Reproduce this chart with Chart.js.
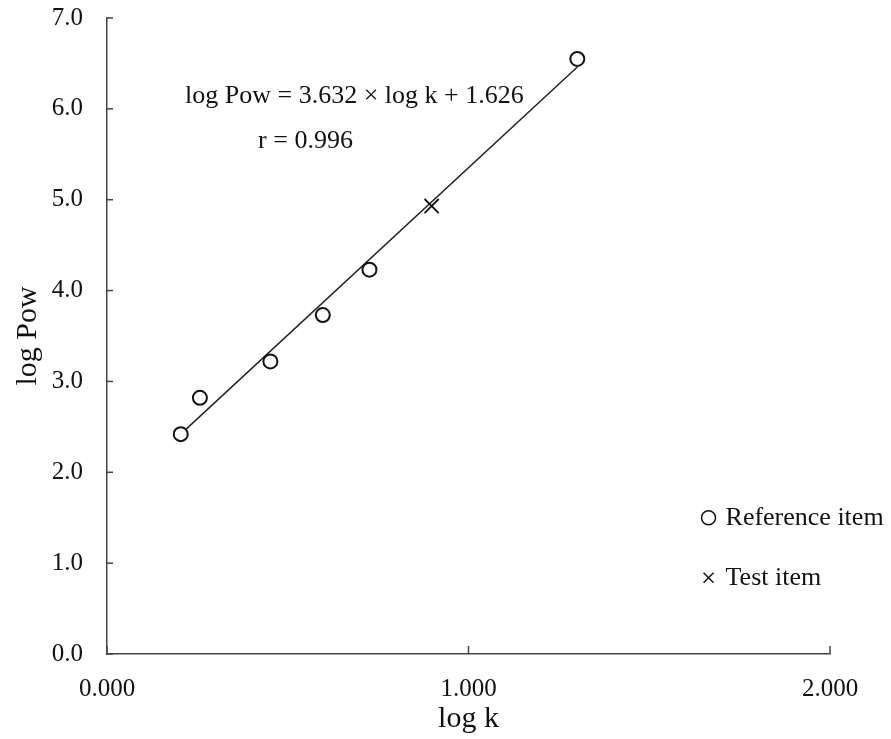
<!DOCTYPE html>
<html>
<head>
<meta charset="utf-8">
<script src="https://cdn.jsdelivr.net/npm/chart.js@4.4.1/dist/chart.umd.min.js"></script>
<style>
  html, body { margin: 0; padding: 0; background: #fff; }
  #wrap { width: 891px; height: 739px; position: relative; }
</style>
</head>
<body>
<div id="wrap"><canvas id="chart" width="891" height="739"></canvas></div>
<script>
// reference items (circles)
const refLogK = [0.204, 0.257, 0.452, 0.597, 0.726, 1.301];
const refLogPow = [2.42, 2.82, 3.22, 3.73, 4.23, 6.55];
// test item (cross)
const testLogK = [0.898];
const testLogPow = [4.93];
// regression line end points as drawn
const fitLogK = [0.204, 1.301];
const fitLogPow = [2.42, 6.46];

const xTicks = [0, 1, 2];
const yTicks = [0, 1, 2, 3, 4, 5, 6, 7];
const equationText = "log Pow = 3.632 \u00d7 log k + 1.626";
const rText = "r = 0.996";

const serif = "'Liberation Serif', 'DejaVu Serif', serif";

function toPoints(xs, ys) {
    return xs.map((x, i) => ({ x: x, y: ys[i] }));
}

// inward tick marks, equation text and legend
const extrasPlugin = {
    id: "extras",
    afterDraw(chart) {
        const ctx = chart.ctx;
        const xs = chart.scales.x;
        const ys = chart.scales.y;
        const left = chart.chartArea.left;
        const bottom = chart.chartArea.bottom;

        ctx.save();
        ctx.strokeStyle = "#444";
        ctx.lineWidth = 1.5;
        yTicks.forEach(v => {
            const py = ys.getPixelForValue(v);
            ctx.beginPath();
            ctx.moveTo(left, py);
            ctx.lineTo(left + 6, py);
            ctx.stroke();
        });
        xTicks.forEach(v => {
            const px = xs.getPixelForValue(v);
            ctx.beginPath();
            ctx.moveTo(px, bottom);
            ctx.lineTo(px, bottom - 8);
            ctx.stroke();
        });

        ctx.fillStyle = "#111";
        ctx.font = "26px " + serif;
        ctx.textBaseline = "middle";
        ctx.textAlign = "left";
        ctx.fillText(equationText, xs.getPixelForValue(0.216), ys.getPixelForValue(6.14));
        ctx.fillText(rText, xs.getPixelForValue(0.418), ys.getPixelForValue(5.64));

        // legend
        const ds = chart.data.datasets;
        const lx = xs.getPixelForValue(1.664);
        const ly1 = ys.getPixelForValue(1.50);
        const ly2 = ys.getPixelForValue(0.84);
        ctx.lineWidth = 1.5;
        ctx.strokeStyle = "#111";
        ctx.beginPath();
        ctx.arc(lx, ly1, 7, 0, Math.PI * 2);
        ctx.stroke();
        ctx.beginPath();
        ctx.moveTo(lx - 5, ly2 - 5);
        ctx.lineTo(lx + 5, ly2 + 5);
        ctx.moveTo(lx + 5, ly2 - 5);
        ctx.lineTo(lx - 5, ly2 + 5);
        ctx.stroke();
        ctx.font = "26px " + serif;
        ctx.fillText(ds[0].label, lx + 17, ly1);
        ctx.fillText(ds[1].label, lx + 17, ly2);
        ctx.restore();
    }
};

new Chart(document.getElementById("chart"), {
    type: "scatter",
    data: {
        datasets: [
            {
                label: "Reference item",
                data: toPoints(refLogK, refLogPow),
                pointStyle: "circle",
                pointRadius: 7,
                pointBorderWidth: 2,
                pointBackgroundColor: "#fff",
                pointBorderColor: "#111",
                order: 1
            },
            {
                label: "Test item",
                data: toPoints(testLogK, testLogPow),
                pointStyle: "crossRot",
                pointRadius: 10,
                pointBorderWidth: 1.8,
                pointBorderColor: "#111",
                order: 1
            },
            {
                label: "fit",
                type: "line",
                data: toPoints(fitLogK, fitLogPow),
                borderColor: "#222",
                borderWidth: 1.5,
                pointRadius: 0,
                fill: false,
                order: 2
            }
        ]
    },
    options: {
        responsive: false,
        animation: false,
        layout: { padding: { top: 0, right: 61, left: 0, bottom: 0 } },
        plugins: {
            legend: { display: false },
            tooltip: { enabled: false }
        },
        scales: {
            x: {
                type: "linear",
                min: 0,
                max: 2,
                afterBuildTicks: s => { s.ticks = xTicks.map(v => ({ value: v })); },
                afterFit: s => { s.height = 85; },
                grid: { drawOnChartArea: false, drawTicks: false },
                border: { display: true, color: "#444", width: 1.5 },
                ticks: {
                    color: "#111",
                    padding: 20,
                    font: { family: serif, size: 25 },
                    callback: v => Number(v).toFixed(3)
                },
                title: {
                    display: true,
                    text: "log k",
                    color: "#111",
                    font: { family: serif, size: 30 },
                    padding: { top: 0, bottom: 2 }
                }
            },
            y: {
                type: "linear",
                min: 0,
                max: 7,
                afterBuildTicks: s => { s.ticks = yTicks.map(v => ({ value: v })); },
                afterFit: s => {
                    s.width = 107;
                    s.paddingTop = 18;
                    s.paddingBottom = 0;
                },
                grid: { drawOnChartArea: false, drawTicks: false },
                border: { display: true, color: "#444", width: 1.5 },
                ticks: {
                    color: "#111",
                    padding: 24,
                    font: { family: serif, size: 25 },
                    callback: v => Number(v).toFixed(1)
                },
                title: {
                    display: true,
                    text: "log Pow",
                    color: "#111",
                    font: { family: serif, size: 30 },
                    padding: { top: 10, bottom: 0 }
                }
            }
        }
    },
    plugins: [extrasPlugin]
});
</script>
</body>
</html>
